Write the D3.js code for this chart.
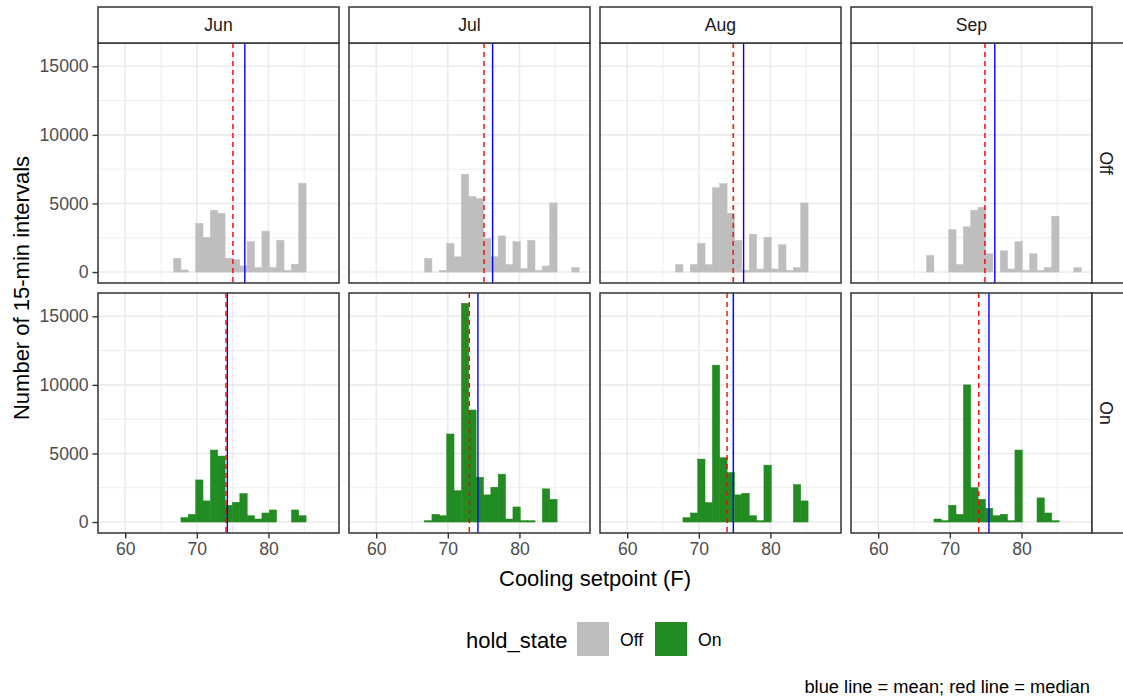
<!DOCTYPE html>
<html>
<head>
<meta charset="utf-8">
<script src="https://cdn.jsdelivr.net/npm/d3@7"></script>
<style>
  html, body { margin: 0; padding: 0; background: #fff; }
  svg { display: block; font-family: "Liberation Sans", Arial, sans-serif; }
</style>
</head>
<body>
<svg id="chart" width="1123" height="698"></svg>
<script>
// Facet layout: columns are months, rows are hold state
const months = ["Jun", "Jul", "Aug", "Sep"];
const holdStates = ["Off", "On"];

// Histogram binning (cooling setpoint, F)
const BIN_ORIGIN = 57.5;
const BIN_WIDTH = 1.028;
const FIRST_BIN = 9;   // counts below start at this bin index

// Counts of 15-min intervals per bin, bins FIRST_BIN .. 29
const countsOffJun = [1000, 150, 0, 3550, 2530, 4500, 4280, 1010, 890, 440, 2210, 320, 2980, 320, 2310, 120, 570, 6470, 0, 0, 0];
const countsOffJul = [1000, 0, 120, 2090, 1110, 7130, 5510, 5360, 2440, 1110, 2630, 540, 2210, 250, 2310, 120, 440, 5040, 0, 0, 320];
const countsOffAug = [540, 0, 540, 2090, 540, 6150, 6450, 4280, 2310, 120, 2760, 220, 2530, 220, 1990, 120, 320, 5040, 0, 0, 0];
const countsOffSep = [1210, 0, 0, 3080, 540, 3300, 4500, 4720, 1330, 0, 1550, 220, 2210, 120, 1330, 120, 320, 4060, 0, 0, 320];
const countsOnJun  = [0, 320, 560, 3070, 1540, 5250, 4810, 1220, 1440, 2070, 460, 220, 660, 880, 0, 0, 880, 460, 0, 0, 0];
const countsOnJul  = [100, 560, 460, 6420, 2290, 15950, 8170, 3270, 1980, 2540, 3490, 220, 1100, 100, 100, 0, 2420, 1660, 0, 0, 0];
const countsOnAug  = [0, 320, 660, 4590, 1420, 11440, 4690, 3610, 1980, 2100, 460, 100, 4150, 0, 0, 0, 2730, 1540, 0, 0, 0];
const countsOnSep  = [0, 220, 100, 1220, 560, 10000, 2510, 1660, 1000, 460, 560, 100, 5250, 0, 0, 1760, 660, 100, 0, 0, 0];

// Mean and median setpoint per facet (month order)
const meanOff   = [76.70, 76.25, 76.25, 76.28];
const medianOff = [75.04, 75.05, 74.80, 74.90];
const meanOn    = [74.26, 74.20, 74.81, 75.46];
const medianOn  = [74.07, 73.00, 73.94, 74.04];

const xTicks = [60, 70, 80];
const xMinor = [65, 75, 85];
const yTicks = [0, 5000, 10000, 15000];
const yMinor = [2500, 7500, 12500];

const fillColors = { Off: "#BEBEBE", On: "#228B22" };
const captionText = "blue line = mean; red line = median";

const counts = {
  Off: [countsOffJun, countsOffJul, countsOffAug, countsOffSep],
  On:  [countsOnJun, countsOnJul, countsOnAug, countsOnSep]
};
const means = { Off: meanOff, On: meanOn };
const medians = { Off: medianOff, On: medianOn };

// Geometry
const panelLeft = 98, panelW = 241, colStep = 251;
const panelTop = 43, panelH = 240, rowStep = 250;
const stripH = 36, stripW = 35;

const svg = d3.select("#chart");

const x = d3.scaleLinear().domain([56.2, 89.85]).range([0, panelW]);
const y = d3.scaleLinear().domain([-800, 16700]).range([panelH, 0]);

const gridMajor = "#EBEBEB", border = "#333333";

holdStates.forEach((state, r) => {
  months.forEach((month, c) => {
    const px = panelLeft + c * colStep;
    const py = panelTop + r * rowStep;
    const g = svg.append("g").attr("transform", `translate(${px},${py})`);

    g.append("rect").attr("width", panelW).attr("height", panelH).attr("fill", "#fff");

    // minor grid
    g.selectAll(".vxm").data(xMinor).join("line")
      .attr("x1", d => x(d)).attr("x2", d => x(d)).attr("y1", 0).attr("y2", panelH)
      .attr("stroke", gridMajor).attr("stroke-width", 0.9);
    g.selectAll(".hym").data(yMinor).join("line")
      .attr("y1", d => y(d)).attr("y2", d => y(d)).attr("x1", 0).attr("x2", panelW)
      .attr("stroke", gridMajor).attr("stroke-width", 0.9);
    // major grid
    g.selectAll(".vx").data(xTicks).join("line")
      .attr("x1", d => x(d)).attr("x2", d => x(d)).attr("y1", 0).attr("y2", panelH)
      .attr("stroke", gridMajor).attr("stroke-width", 1.6);
    g.selectAll(".hy").data(yTicks).join("line")
      .attr("y1", d => y(d)).attr("y2", d => y(d)).attr("x1", 0).attr("x2", panelW)
      .attr("stroke", gridMajor).attr("stroke-width", 1.6);

    // histogram bars (thin same-colour stroke closes seams between neighbours)
    const bins = counts[state][c].map((v, i) => {
      const k = FIRST_BIN + i;
      return { x0: BIN_ORIGIN + k * BIN_WIDTH, x1: BIN_ORIGIN + (k + 1) * BIN_WIDTH, n: v };
    }).filter(b => b.n > 0);
    g.selectAll(".bar").data(bins).join("rect")
      .attr("x", d => x(d.x0))
      .attr("width", d => x(d.x1) - x(d.x0))
      .attr("y", d => y(d.n))
      .attr("height", d => y(0) - y(d.n))
      .attr("fill", fillColors[state])
      .attr("stroke", fillColors[state])
      .attr("stroke-width", 0.5);

    // mean (blue) and median (red dashed)
    g.append("line")
      .attr("x1", x(means[state][c])).attr("x2", x(means[state][c]))
      .attr("y1", 0).attr("y2", panelH)
      .attr("stroke", "#0000FF").attr("stroke-width", 1.4);
    g.append("line")
      .attr("x1", x(medians[state][c])).attr("x2", x(medians[state][c]))
      .attr("y1", 0).attr("y2", panelH)
      .attr("stroke", "#FF0000").attr("stroke-width", 1.4)
      .attr("stroke-dasharray", "5,4");

    // panel border
    g.append("rect").attr("width", panelW).attr("height", panelH)
      .attr("fill", "none").attr("stroke", border).attr("stroke-width", 1.5);

    // y axis on first column
    if (c === 0) {
      const ax = g.append("g").call(d3.axisLeft(y).tickValues(yTicks).tickSize(5.5).tickPadding(4).tickFormat(d3.format("d")));
      ax.select(".domain").remove();
      ax.selectAll("line").attr("stroke", border).attr("stroke-width", 1.4);
      ax.selectAll("text").attr("fill", "#4D4D4D").style("font-size", "17.6px")
        .style("font-family", "'Liberation Sans', Arial, sans-serif");
    }
    // x axis on bottom row
    if (r === holdStates.length - 1) {
      const ax = g.append("g").attr("transform", `translate(0,${panelH})`)
        .call(d3.axisBottom(x).tickValues(xTicks).tickSize(5.5).tickPadding(4));
      ax.select(".domain").remove();
      ax.selectAll("line").attr("stroke", border).attr("stroke-width", 1.4);
      ax.selectAll("text").attr("fill", "#4D4D4D").style("font-size", "17.6px")
        .style("font-family", "'Liberation Sans', Arial, sans-serif");
    }
  });
});

// top strips (months)
months.forEach((month, c) => {
  const sx = panelLeft + c * colStep;
  svg.append("rect").attr("x", sx).attr("y", panelTop - stripH).attr("width", panelW).attr("height", stripH)
    .attr("fill", "#fff").attr("stroke", border).attr("stroke-width", 1.5);
  svg.append("text").attr("x", sx + panelW / 2).attr("y", panelTop - stripH / 2 + 6.3)
    .attr("text-anchor", "middle").attr("fill", "#1A1A1A").style("font-size", "17.6px").text(month);
});

// right strips (hold state)
holdStates.forEach((state, r) => {
  const sx = panelLeft + 3 * colStep + panelW;
  const sy = panelTop + r * rowStep;
  svg.append("rect").attr("x", sx).attr("y", sy).attr("width", stripW).attr("height", panelH)
    .attr("fill", "#fff").attr("stroke", border).attr("stroke-width", 1.5);
  svg.append("text")
    .attr("transform", `translate(${sx + 8},${sy + panelH / 2}) rotate(90)`)
    .attr("text-anchor", "middle").attr("fill", "#1A1A1A").style("font-size", "17.6px").text(state);
});

// axis titles
const plotMidX = panelLeft + (3 * colStep + panelW) / 2;
const plotMidY = panelTop + (rowStep + panelH) / 2;
svg.append("text").attr("x", plotMidX).attr("y", 586).attr("text-anchor", "middle")
  .style("font-size", "22px").attr("fill", "#000").text("Cooling setpoint (F)");
svg.append("text").attr("transform", `translate(28.5,${plotMidY}) rotate(-90)`)
  .attr("text-anchor", "middle").style("font-size", "22px").attr("fill", "#000").text("Number of 15-min intervals");

// legend
const legend = svg.append("g");
legend.append("text").attr("x", 466).attr("y", 648).style("font-size", "22px").attr("fill", "#000").text("hold_state");
const keyX = [577, 655], labelX = [620, 698];
holdStates.forEach((state, i) => {
  legend.append("rect").attr("x", keyX[i]).attr("y", 622).attr("width", 32).attr("height", 34)
    .attr("fill", fillColors[state]);
  legend.append("text").attr("x", labelX[i]).attr("y", 645.5).style("font-size", "17.6px")
    .attr("fill", "#000").text(state);
});

// caption
svg.append("text").attr("x", 1090).attr("y", 693).attr("text-anchor", "end")
  .style("font-size", "18.3px").attr("fill", "#000").text(captionText);
</script>
</body>
</html>
